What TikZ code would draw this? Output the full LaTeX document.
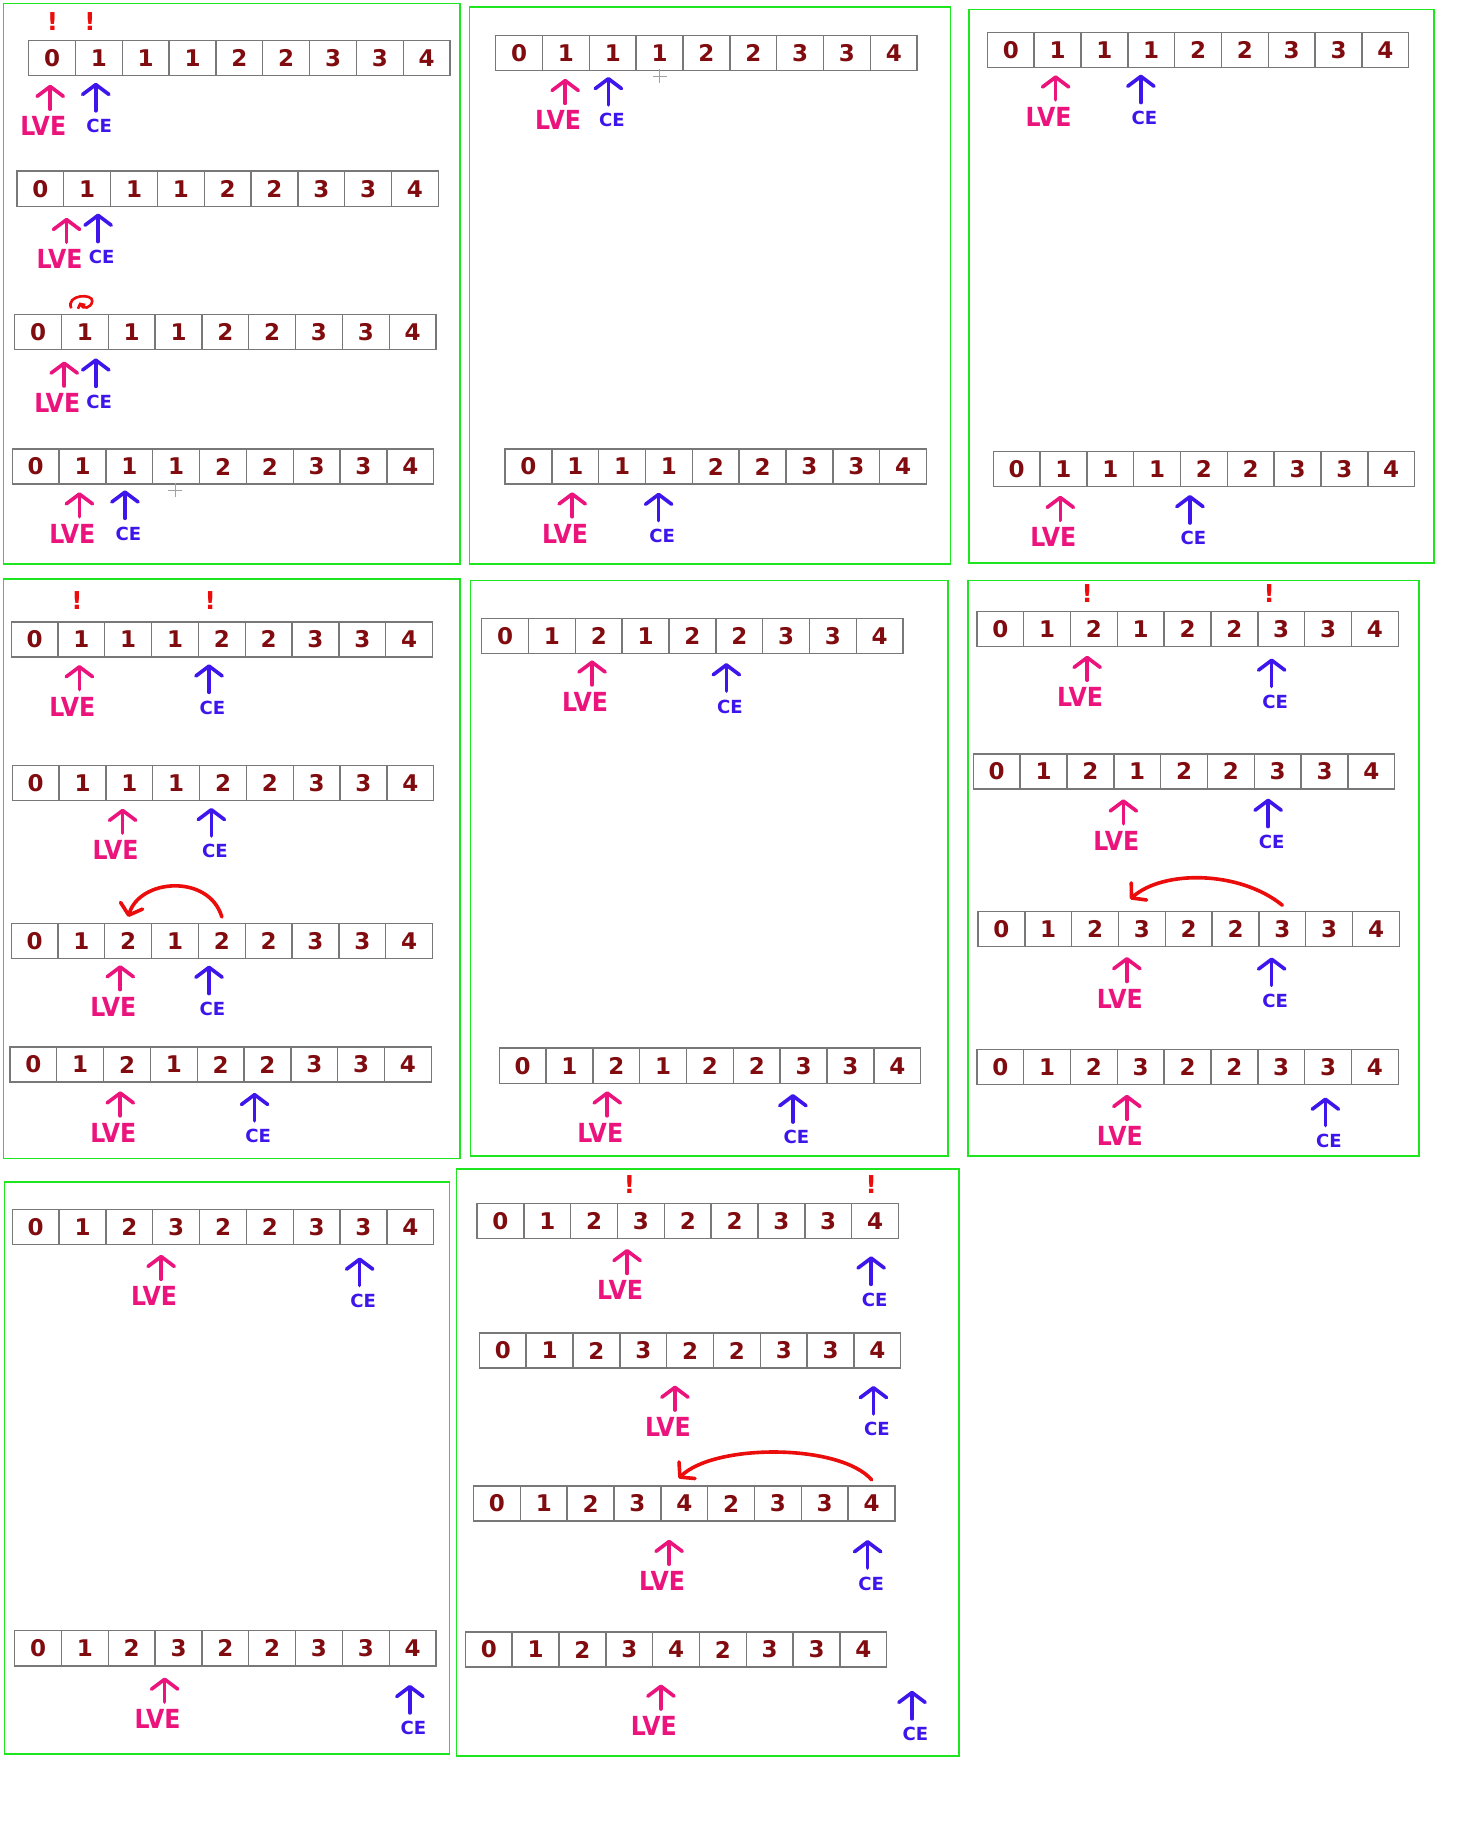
\documentclass[tikz,border=0pt]{standalone}
\usepackage{fontspec}
\setmainfont{DejaVu Sans}
\newfontfamily\lvefont{DejaVu Sans Condensed}
\usetikzlibrary{arrows.meta}
\definecolor{hwred}{RGB}{128, 12, 16}
\definecolor{hwpink}{RGB}{235, 20, 125}
\definecolor{hwblue}{RGB}{62, 22, 235}
\definecolor{hwgreen}{RGB}{30, 230, 30}
\definecolor{hwgray}{RGB}{120, 120, 120}
\definecolor{hwmark}{RGB}{235, 12, 12}

\tikzset{
    panel/.style={draw=hwgreen, line width=1pt},
    cell/.style={draw=hwgray, line width=0.8pt, anchor=north west, inner sep=0pt,
        minimum width=1.0cm, minimum height=0.75cm, text=hwred,
        font=\bfseries\fontsize{14}{14}\selectfont},
    lvetext/.style={text=hwpink, inner sep=0pt, font=\lvefont\bfseries\fontsize{16}{16}\selectfont},
    cetext/.style={text=hwblue, inner sep=0pt, font=\bfseries\fontsize{11}{11}\selectfont},
    lvearrow/.style={draw=hwpink, line width=2.2pt, line cap=round,
        -{Straight Barb[length=6pt, width=16pt, line width=2.2pt, round]}},
    cearrow/.style={draw=hwblue, line width=2.2pt, line cap=round,
        -{Straight Barb[length=6pt, width=16pt, line width=2.2pt, round]}},
    swaparrow/.style={draw=hwmark, line width=2.2pt, line cap=round,
        -{Straight Barb[length=6pt, width=14pt, line width=2.2pt, round]}},
    bang/.style={text=hwmark, font=\bfseries\fontsize{15}{15}\selectfont},
    cursor/.style={draw=hwgray!70, line width=0.5pt}
}

% one row of nine cells, named <name>-1 ... <name>-9
\newcommand{\cellrow}[4]{%
    \foreach \digit [count=\i] in {#4}
        \node[cell] (#1-\i) at ({#2+(\i-1)*40.1}, #3) {\digit};
}
% pointer LVE: name, arrow x, text y
\newcommand{\markLVE}[3]{%
    \node[lvetext] (#1) at ({#2-6}, #3) {LVE};
    \draw[lvearrow] ([xshift=0.15cm, yshift=0.15cm]#1.north) -- ++(0,-21);
}
% pointer CE: name, arrow x, text y
\newcommand{\markCE}[3]{%
    \node[cetext] (#1) at ({#2+3}, #3) {CE};
    \draw[cearrow] ([xshift=-0.075cm, yshift=0.175cm]#1.north) -- ++(0,-24);
}

\begin{document}
\begin{tikzpicture}[x=0.025cm, y=-0.025cm]
\useasboundingbox (0,0) rectangle (1255,1568);

% === Panel A ===
\draw[panel] (3,3) rectangle (394,483);
\node[bang] (a1b1) at (45,18) {!};
\node[bang] (a1b2) at (77,18) {!};
\cellrow{a1}{24}{34}{0,1,1,1,2,2,3,3,4}
\markLVE{a1l}{43}{108}
\markCE{a1c}{82}{108}

\cellrow{a2}{14}{146}{0,1,1,1,2,2,3,3,4}
\markLVE{a2l}{57}{222}
\markCE{a2c}{84}{220}

% small loop above the second cell
\draw[draw=hwmark, line width=1.6pt, -{Straight Barb[length=2pt, width=5pt]}]
    (61,264) .. controls (56,252) and (80,251) .. (79,258)
    .. controls (78,264) and (71,265) .. (68,259);
\cellrow{a3}{12}{269}{0,1,1,1,2,2,3,3,4}
\markLVE{a3l}{55}{345}
\markCE{a3c}{82}{344}

\cellrow{a4}{10}{384}{0,1,1,1,2,2,3,3,4}
\markLVE{a4l}{68}{457}
\markCE{a4c}{107}{457}
\draw[cursor] (144,420) -- (156,420) (150,414) -- (150,426);

% === Panel B ===
\draw[panel] (402,6) rectangle (814,483);
\cellrow{b1}{424}{30}{0,1,1,1,2,2,3,3,4}
\markLVE{b1l}{484}{103}
\markCE{b1c}{521}{103}
\draw[cursor] (559,65) -- (571,65) (565,59) -- (565,71);

\cellrow{b2}{432}{384}{0,1,1,1,2,2,3,3,4}
\markLVE{b2l}{490}{457}
\markCE{b2c}{564}{459}

% === Panel C ===
\draw[panel] (830,8) rectangle (1228,482);
\cellrow{c1}{845}{27}{0,1,1,1,2,2,3,3,4}
\markLVE{c1l}{904}{100}
\markCE{c1c}{977}{101}

\cellrow{c2}{850}{386}{0,1,1,1,2,2,3,3,4}
\markLVE{c2l}{908}{460}
\markCE{c2c}{1019}{461}

% === Panel D ===
\draw[panel] (3,496) rectangle (394,992);
\node[bang] (d1b1) at (66,514) {!};
\node[bang] (d1b2) at (180,514) {!};
\cellrow{d1}{9}{532}{0,1,1,1,2,2,3,3,4}
\markLVE{d1l}{68}{605}
\markCE{d1c}{179}{606}

\cellrow{d2}{10}{655}{0,1,1,1,2,2,3,3,4}
\markLVE{d2l}{105}{728}
\markCE{d2c}{181}{729}

\cellrow{d3}{9}{790}{0,1,2,1,2,2,3,3,4}
\draw[swaparrow] ([yshift=0.12cm]d3-5.north) .. controls +(-11,-37) and +(10,-33) .. ([yshift=0.12cm]d3-3.north);
\markLVE{d3l}{103}{862}
\markCE{d3c}{179}{864}

\cellrow{d4}{8}{896}{0,1,2,1,2,2,3,3,4}
\markLVE{d4l}{103}{970}
\markCE{d4c}{218}{973}

% === Panel E ===
\draw[panel] (403,497) rectangle (812,990);
\cellrow{e1}{412}{529}{0,1,2,1,2,2,3,3,4}
\markLVE{e1l}{507}{601}
\markCE{e1c}{622}{605}

\cellrow{e2}{427}{897}{0,1,2,1,2,2,3,3,4}
\markLVE{e2l}{520}{970}
\markCE{e2c}{679}{974}

% === Panel F ===
\draw[panel] (829,497) rectangle (1215,990);
\node[bang] (f1b1) at (931,508) {!};
\node[bang] (f1b2) at (1087,508) {!};
\cellrow{f1}{836}{523}{0,1,2,1,2,2,3,3,4}
\markLVE{f1l}{931}{597}
\markCE{f1c}{1089}{601}

\cellrow{f2}{833}{645}{0,1,2,1,2,2,3,3,4}
\markLVE{f2l}{962}{720}
\markCE{f2c}{1086}{721}

\cellrow{f3}{837}{780}{0,1,2,3,2,2,3,3,4}
\draw[swaparrow] ([yshift=0.12cm]f3-7.north) .. controls +(-37,-30) and +(28,-25) .. ([xshift=-0.25cm, yshift=0.25cm]f3-4.north);
\markLVE{f3l}{965}{855}
\markCE{f3c}{1089}{857}

\cellrow{f4}{836}{898}{0,1,2,3,2,2,3,3,4}
\markLVE{f4l}{965}{973}
\markCE{f4c}{1135}{977}

% === Panel G ===
\draw[panel] (4,1012) rectangle (385,1502);
\cellrow{g1}{10}{1035}{0,1,2,3,2,2,3,3,4}
\markLVE{g1l}{138}{1110}
\markCE{g1c}{308}{1114}

\cellrow{g2}{12}{1396}{0,1,2,3,2,2,3,3,4}
\markLVE{g2l}{141}{1472}
\markCE{g2c}{351}{1480}

% === Panel H ===
\draw[panel] (391,1001) rectangle (821,1504);
\node[bang] (h1b1) at (539,1014) {!};
\node[bang] (h1b2) at (746,1014) {!};
\cellrow{h1}{408}{1030}{0,1,2,3,2,2,3,3,4}
\markLVE{h1l}{537}{1105}
\markCE{h1c}{746}{1113}

\cellrow{h2}{410}{1141}{0,1,2,3,2,2,3,3,4}
\markLVE{h2l}{578}{1222}
\markCE{h2c}{748}{1224}

\cellrow{h3}{405}{1272}{0,1,2,3,4,2,3,3,4}
\draw[swaparrow] ([yshift=0.12cm]h3-9.north) .. controls +(-27,-31) and +(31,-30) .. ([xshift=-0.12cm, yshift=0.15cm]h3-5.north);
\markLVE{h3l}{573}{1354}
\markCE{h3c}{743}{1356}

\cellrow{h4}{398}{1397}{0,1,2,3,4,2,3,3,4}
\markLVE{h4l}{566}{1478}
\markCE{h4c}{781}{1485}

\end{tikzpicture}
\end{document}
